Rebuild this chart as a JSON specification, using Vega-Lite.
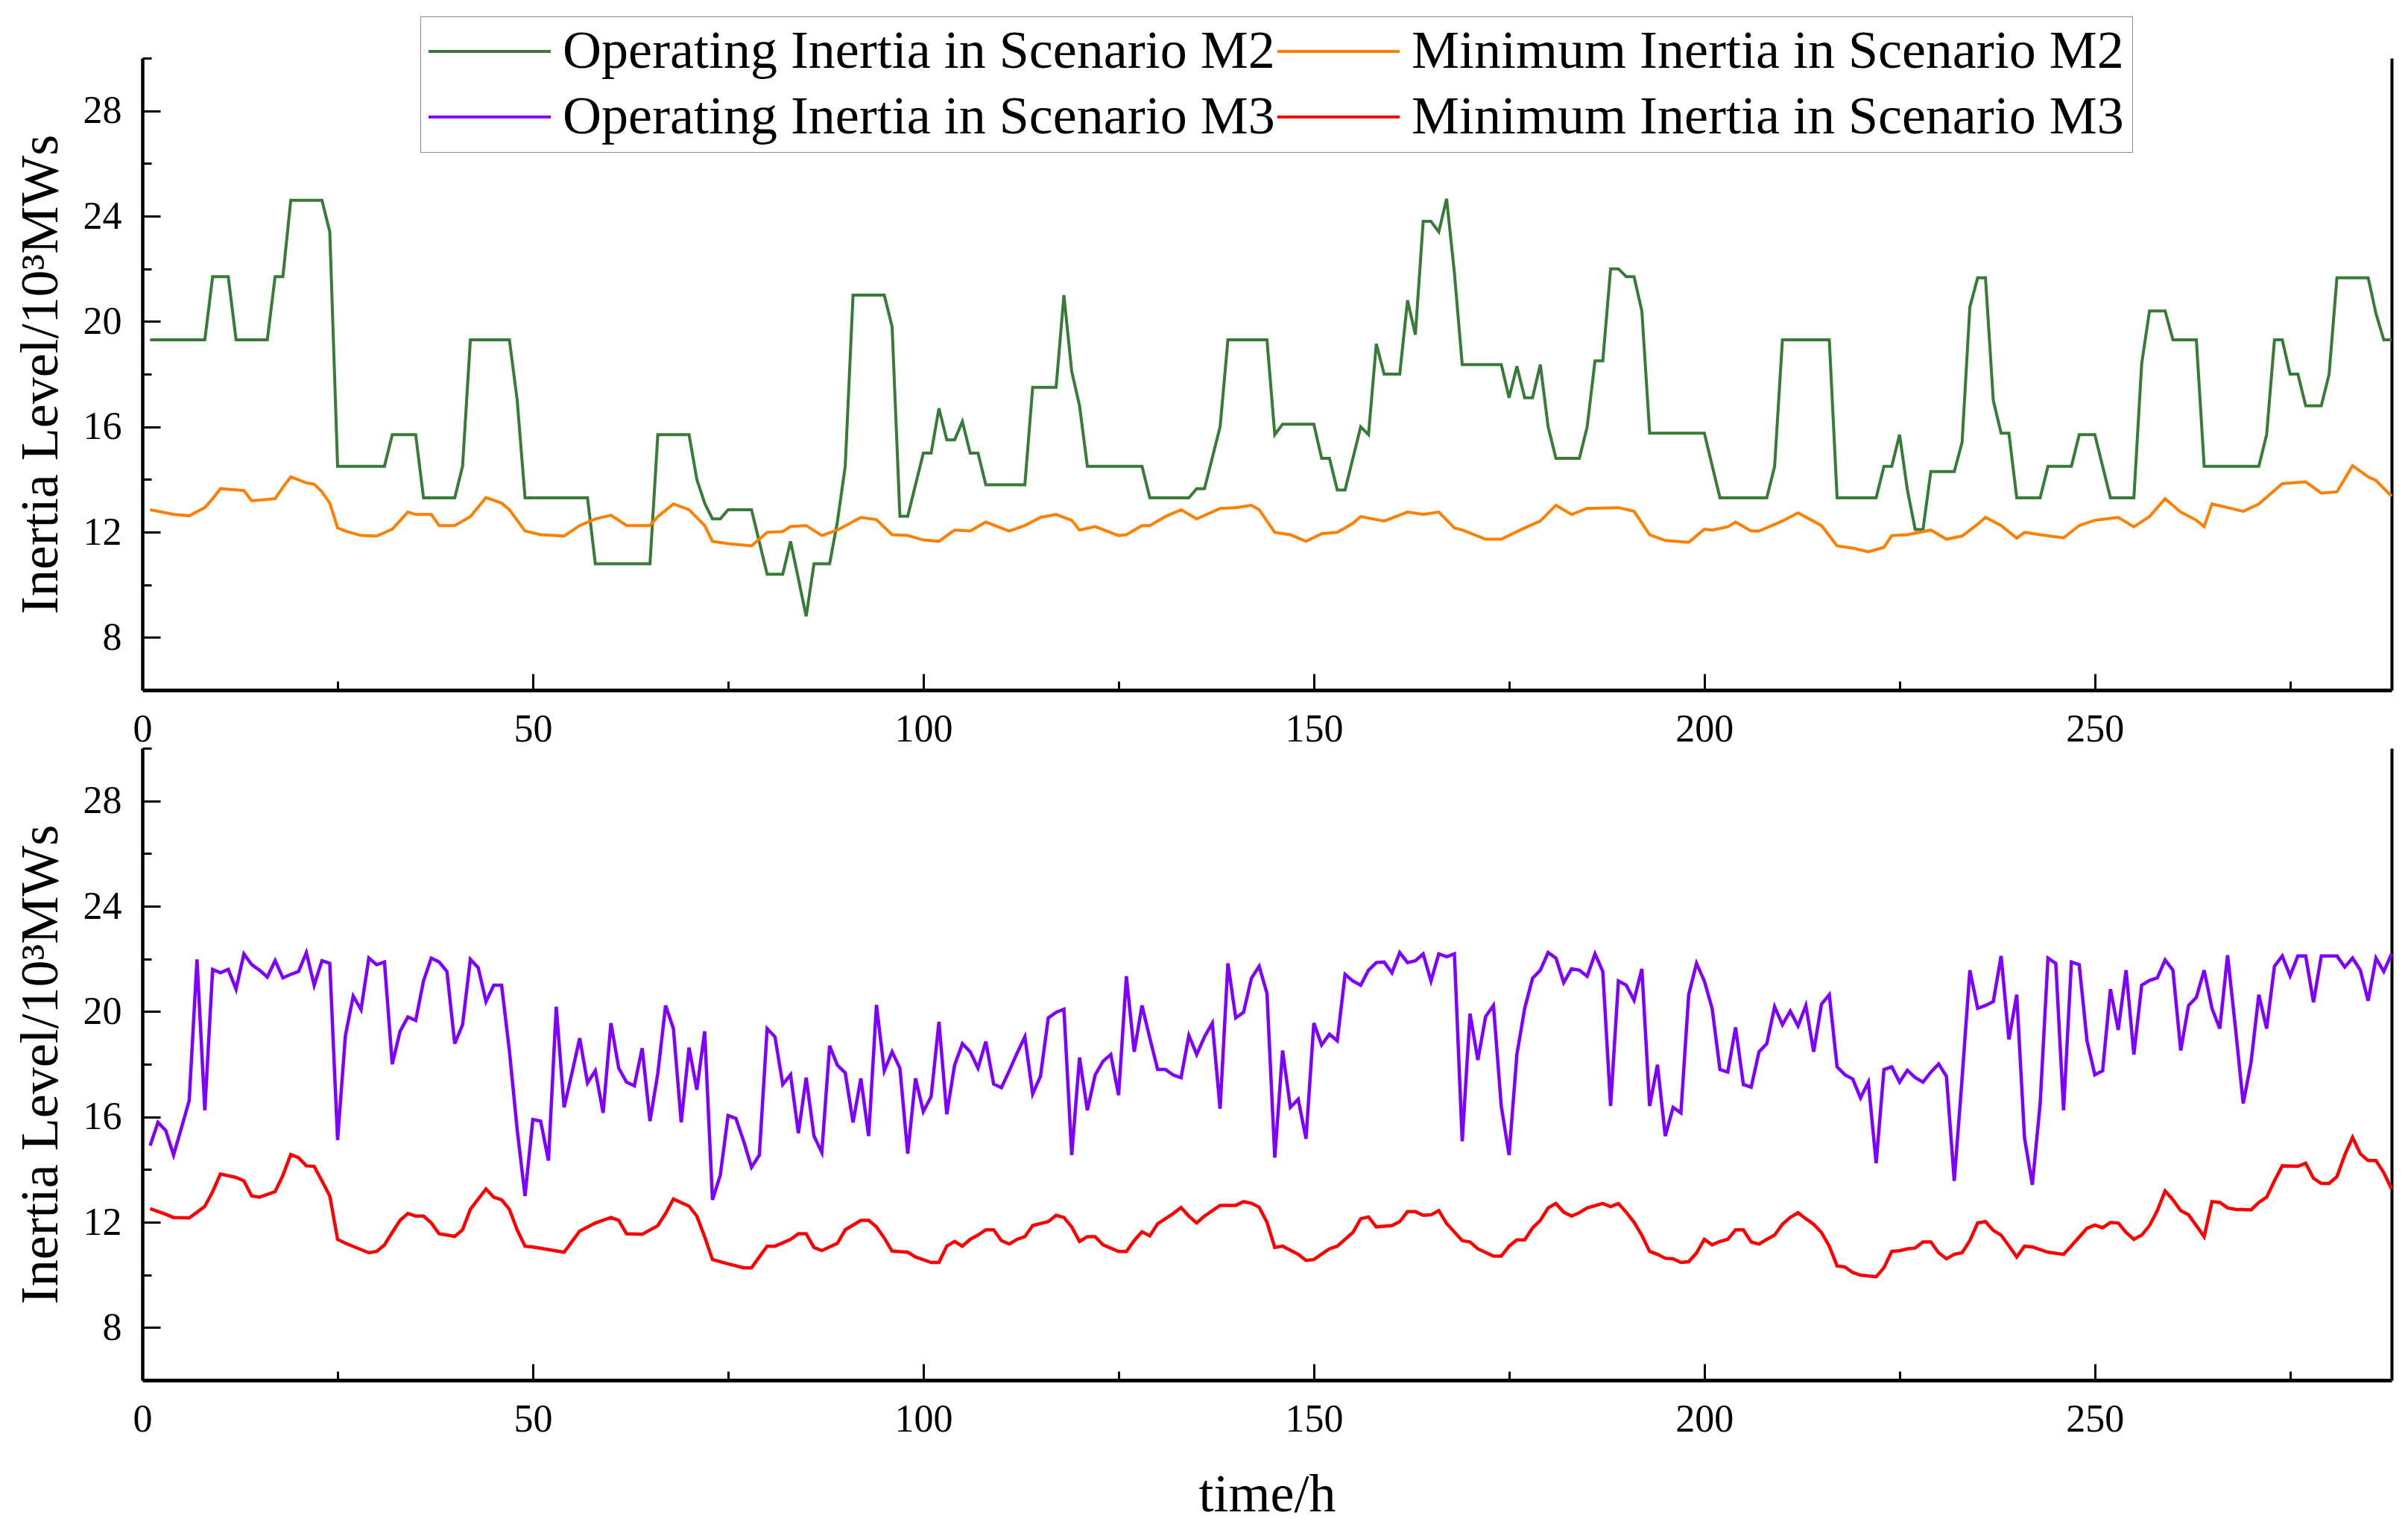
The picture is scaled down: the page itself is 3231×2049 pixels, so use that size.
{
"$schema":"https://vega.github.io/schema/vega-lite/v6.json",
"padding":{"left":18,"top":21,"right":10,"bottom":5},
"spacing":-2,
"config":{"view":{"stroke":null},"font":"Liberation Serif"},
"resolve":{"scale":{"color":"independent"}},
"datasets":{
"opM2":[{"t":1,"v":19.3},{"t":8,"v":19.3},{"t":9,"v":21.7},{"t":11,"v":21.7},{"t":12,"v":19.3},{"t":16,"v":19.3},{"t":17,"v":21.7},{"t":18,"v":21.7},{"t":19,"v":24.6},{"t":23,"v":24.6},{"t":24,"v":23.4},{"t":25,"v":14.5},{"t":31,"v":14.5},{"t":32,"v":15.7},{"t":35,"v":15.7},{"t":36,"v":13.3},{"t":40,"v":13.3},{"t":41,"v":14.5},{"t":42,"v":19.3},{"t":47,"v":19.3},{"t":48,"v":17.0},{"t":49,"v":13.3},{"t":57,"v":13.3},{"t":58,"v":10.8},{"t":65,"v":10.8},{"t":66,"v":15.7},{"t":70,"v":15.7},{"t":71,"v":14.0},{"t":72,"v":13.1},{"t":73,"v":12.5},{"t":74,"v":12.5},{"t":75,"v":12.85},{"t":78,"v":12.85},{"t":80,"v":10.4},{"t":82,"v":10.4},{"t":83,"v":11.65},{"t":85,"v":8.8},{"t":86,"v":10.8},{"t":88,"v":10.8},{"t":89,"v":12.4},{"t":90,"v":14.5},{"t":91,"v":21.0},{"t":95,"v":21.0},{"t":96,"v":19.8},{"t":97,"v":12.6},{"t":98,"v":12.6},{"t":100,"v":15.0},{"t":101,"v":15.0},{"t":102,"v":16.7},{"t":103,"v":15.5},{"t":104,"v":15.5},{"t":105,"v":16.2},{"t":106,"v":15.0},{"t":107,"v":15.0},{"t":108,"v":13.8},{"t":113,"v":13.8},{"t":114,"v":17.5},{"t":117,"v":17.5},{"t":118,"v":21.0},{"t":119,"v":18.1},{"t":120,"v":16.8},{"t":121,"v":14.5},{"t":128,"v":14.5},{"t":129,"v":13.3},{"t":134,"v":13.3},{"t":135,"v":13.65},{"t":136,"v":13.65},{"t":138,"v":16.0},{"t":139,"v":19.3},{"t":144,"v":19.3},{"t":145,"v":15.7},{"t":146,"v":16.1},{"t":150,"v":16.1},{"t":151,"v":14.8},{"t":152,"v":14.8},{"t":153,"v":13.6},{"t":154,"v":13.6},{"t":156,"v":16.0},{"t":157,"v":15.7},{"t":158,"v":19.15},{"t":159,"v":18.0},{"t":161,"v":18.0},{"t":162,"v":20.8},{"t":163,"v":19.5},{"t":164,"v":23.8},{"t":165,"v":23.8},{"t":166,"v":23.4},{"t":167,"v":24.66},{"t":168,"v":21.84},{"t":169,"v":18.36},{"t":174,"v":18.36},{"t":175,"v":17.1},{"t":176,"v":18.3},{"t":177,"v":17.1},{"t":178,"v":17.1},{"t":179,"v":18.36},{"t":180,"v":16.0},{"t":181,"v":14.8},{"t":184,"v":14.8},{"t":185,"v":16.0},{"t":186,"v":18.5},{"t":187,"v":18.5},{"t":188,"v":22.0},{"t":189,"v":22.0},{"t":190,"v":21.7},{"t":191,"v":21.7},{"t":192,"v":20.4},{"t":193,"v":15.76},{"t":200,"v":15.76},{"t":202,"v":13.3},{"t":208,"v":13.3},{"t":209,"v":14.5},{"t":210,"v":19.3},{"t":216,"v":19.3},{"t":217,"v":13.3},{"t":222,"v":13.3},{"t":223,"v":14.5},{"t":224,"v":14.5},{"t":225,"v":15.7},{"t":226,"v":13.6},{"t":227,"v":12.1},{"t":228,"v":12.1},{"t":229,"v":14.3},{"t":232,"v":14.3},{"t":233,"v":15.4},{"t":234,"v":20.55},{"t":235,"v":21.66},{"t":236,"v":21.66},{"t":237,"v":17.0},{"t":238,"v":15.76},{"t":239,"v":15.76},{"t":240,"v":13.3},{"t":243,"v":13.3},{"t":244,"v":14.5},{"t":247,"v":14.5},{"t":248,"v":15.7},{"t":250,"v":15.7},{"t":251,"v":14.5},{"t":252,"v":13.3},{"t":255,"v":13.3},{"t":256,"v":18.4},{"t":257,"v":20.4},{"t":259,"v":20.4},{"t":260,"v":19.3},{"t":263,"v":19.3},{"t":264,"v":14.5},{"t":271,"v":14.5},{"t":272,"v":15.7},{"t":273,"v":19.3},{"t":274,"v":19.3},{"t":275,"v":18.0},{"t":276,"v":18.0},{"t":277,"v":16.8},{"t":279,"v":16.8},{"t":280,"v":18.0},{"t":281,"v":21.66},{"t":285,"v":21.66},{"t":286,"v":20.3},{"t":287,"v":19.3},{"t":288,"v":19.3}],
"minM2":[{"t":1,"v":12.85},{"t":4,"v":12.67},{"t":6,"v":12.62},{"t":8,"v":12.93},{"t":9,"v":13.27},{"t":10,"v":13.65},{"t":13,"v":13.58},{"t":14,"v":13.19},{"t":17,"v":13.27},{"t":18,"v":13.7},{"t":19,"v":14.1},{"t":21,"v":13.87},{"t":22,"v":13.82},{"t":23,"v":13.53},{"t":24,"v":13.1},{"t":25,"v":12.16},{"t":26,"v":12.04},{"t":28,"v":11.87},{"t":30,"v":11.85},{"t":32,"v":12.11},{"t":34,"v":12.76},{"t":35,"v":12.67},{"t":37,"v":12.67},{"t":38,"v":12.25},{"t":40,"v":12.25},{"t":42,"v":12.59},{"t":44,"v":13.31},{"t":46,"v":13.1},{"t":47,"v":12.85},{"t":49,"v":12.04},{"t":51,"v":11.9},{"t":54,"v":11.85},{"t":56,"v":12.25},{"t":58,"v":12.5},{"t":60,"v":12.64},{"t":62,"v":12.25},{"t":65,"v":12.25},{"t":66,"v":12.59},{"t":68,"v":13.07},{"t":70,"v":12.85},{"t":72,"v":12.25},{"t":73,"v":11.65},{"t":75,"v":11.56},{"t":78,"v":11.48},{"t":80,"v":11.99},{"t":82,"v":12.02},{"t":83,"v":12.21},{"t":85,"v":12.25},{"t":87,"v":11.87},{"t":89,"v":12.08},{"t":92,"v":12.56},{"t":94,"v":12.47},{"t":96,"v":11.9},{"t":98,"v":11.87},{"t":100,"v":11.7},{"t":102,"v":11.65},{"t":104,"v":12.08},{"t":106,"v":12.04},{"t":108,"v":12.38},{"t":111,"v":12.04},{"t":113,"v":12.25},{"t":115,"v":12.56},{"t":117,"v":12.67},{"t":119,"v":12.45},{"t":120,"v":12.08},{"t":122,"v":12.21},{"t":125,"v":11.87},{"t":126,"v":11.9},{"t":128,"v":12.25},{"t":129,"v":12.25},{"t":131,"v":12.59},{"t":133,"v":12.85},{"t":135,"v":12.5},{"t":138,"v":12.9},{"t":140,"v":12.93},{"t":142,"v":13.02},{"t":143,"v":12.85},{"t":145,"v":11.99},{"t":147,"v":11.9},{"t":149,"v":11.65},{"t":151,"v":11.94},{"t":153,"v":11.99},{"t":155,"v":12.33},{"t":156,"v":12.59},{"t":159,"v":12.42},{"t":162,"v":12.76},{"t":164,"v":12.67},{"t":166,"v":12.76},{"t":168,"v":12.16},{"t":169,"v":12.08},{"t":172,"v":11.73},{"t":174,"v":11.73},{"t":177,"v":12.16},{"t":179,"v":12.42},{"t":181,"v":13.02},{"t":183,"v":12.67},{"t":185,"v":12.9},{"t":189,"v":12.93},{"t":191,"v":12.79},{"t":193,"v":11.9},{"t":195,"v":11.68},{"t":198,"v":11.61},{"t":200,"v":12.11},{"t":201,"v":12.08},{"t":203,"v":12.2},{"t":204,"v":12.38},{"t":206,"v":12.04},{"t":207,"v":12.04},{"t":210,"v":12.42},{"t":212,"v":12.73},{"t":215,"v":12.25},{"t":217,"v":11.48},{"t":219,"v":11.39},{"t":221,"v":11.25},{"t":223,"v":11.42},{"t":224,"v":11.87},{"t":226,"v":11.9},{"t":229,"v":12.08},{"t":231,"v":11.73},{"t":233,"v":11.85},{"t":235,"v":12.3},{"t":236,"v":12.56},{"t":238,"v":12.25},{"t":240,"v":11.77},{"t":241,"v":11.99},{"t":243,"v":11.9},{"t":246,"v":11.78},{"t":248,"v":12.25},{"t":250,"v":12.45},{"t":253,"v":12.56},{"t":255,"v":12.2},{"t":257,"v":12.59},{"t":259,"v":13.27},{"t":261,"v":12.76},{"t":263,"v":12.45},{"t":264,"v":12.21},{"t":265,"v":13.07},{"t":267,"v":12.93},{"t":269,"v":12.79},{"t":271,"v":13.07},{"t":274,"v":13.84},{"t":277,"v":13.91},{"t":279,"v":13.48},{"t":281,"v":13.53},{"t":283,"v":14.52},{"t":285,"v":14.1},{"t":286,"v":13.96},{"t":288,"v":13.36}],
"opM3":[{"t":1,"v":14.91},{"t":2,"v":15.79},{"t":3,"v":15.48},{"t":4,"v":14.55},{"t":5,"v":15.58},{"t":6,"v":16.62},{"t":7,"v":21.98},{"t":8,"v":16.25},{"t":9,"v":21.6},{"t":10,"v":21.47},{"t":11,"v":21.6},{"t":12,"v":20.85},{"t":13,"v":22.19},{"t":14,"v":21.78},{"t":15,"v":21.57},{"t":16,"v":21.31},{"t":17,"v":21.93},{"t":18,"v":21.28},{"t":19,"v":21.41},{"t":20,"v":21.52},{"t":21,"v":22.24},{"t":22,"v":21.0},{"t":23,"v":21.93},{"t":24,"v":21.83},{"t":25,"v":15.12},{"t":26,"v":19.09},{"t":27,"v":20.59},{"t":28,"v":20.07},{"t":29,"v":22.03},{"t":30,"v":21.78},{"t":31,"v":21.88},{"t":32,"v":18.0},{"t":33,"v":19.25},{"t":34,"v":19.79},{"t":35,"v":19.66},{"t":36,"v":21.16},{"t":37,"v":22.03},{"t":38,"v":21.88},{"t":39,"v":21.52},{"t":40,"v":18.78},{"t":41,"v":19.5},{"t":42,"v":21.98},{"t":43,"v":21.67},{"t":44,"v":20.38},{"t":45,"v":21.0},{"t":46,"v":21.0},{"t":47,"v":18.5},{"t":48,"v":15.5},{"t":49,"v":13.0},{"t":50,"v":15.9},{"t":51,"v":15.84},{"t":52,"v":14.34},{"t":53,"v":20.18},{"t":54,"v":16.36},{"t":55,"v":17.65},{"t":56,"v":18.99},{"t":57,"v":17.29},{"t":58,"v":17.75},{"t":59,"v":16.15},{"t":60,"v":19.56},{"t":61,"v":17.85},{"t":62,"v":17.32},{"t":63,"v":17.18},{"t":64,"v":18.61},{"t":65,"v":15.84},{"t":66,"v":17.65},{"t":67,"v":20.23},{"t":68,"v":19.35},{"t":69,"v":15.79},{"t":70,"v":18.63},{"t":71,"v":17.03},{"t":72,"v":19.25},{"t":73,"v":12.85},{"t":74,"v":13.78},{"t":75,"v":16.05},{"t":76,"v":15.94},{"t":77,"v":15.07},{"t":78,"v":14.09},{"t":79,"v":14.55},{"t":80,"v":19.35},{"t":81,"v":19.04},{"t":82,"v":17.23},{"t":83,"v":17.6},{"t":84,"v":15.38},{"t":85,"v":17.49},{"t":86,"v":15.27},{"t":87,"v":14.65},{"t":88,"v":18.7},{"t":89,"v":17.96},{"t":90,"v":17.67},{"t":91,"v":15.79},{"t":92,"v":17.46},{"t":93,"v":15.27},{"t":94,"v":20.25},{"t":95,"v":17.75},{"t":96,"v":18.47},{"t":97,"v":17.85},{"t":98,"v":14.6},{"t":99,"v":17.46},{"t":100,"v":16.2},{"t":101,"v":16.77},{"t":102,"v":19.61},{"t":103,"v":16.1},{"t":104,"v":17.96},{"t":105,"v":18.78},{"t":106,"v":18.47},{"t":107,"v":17.85},{"t":108,"v":18.86},{"t":109,"v":17.25},{"t":110,"v":17.11},{"t":111,"v":17.75},{"t":112,"v":18.42},{"t":113,"v":19.04},{"t":114,"v":16.87},{"t":115,"v":17.54},{"t":116,"v":19.76},{"t":117,"v":19.97},{"t":118,"v":20.09},{"t":119,"v":14.55},{"t":120,"v":18.25},{"t":121,"v":16.25},{"t":122,"v":17.59},{"t":123,"v":18.11},{"t":124,"v":18.37},{"t":125,"v":16.82},{"t":126,"v":21.34},{"t":127,"v":18.47},{"t":128,"v":20.23},{"t":129,"v":18.99},{"t":130,"v":17.8},{"t":131,"v":17.8},{"t":132,"v":17.59},{"t":133,"v":17.49},{"t":134,"v":19.09},{"t":135,"v":18.37},{"t":136,"v":19.04},{"t":137,"v":19.56},{"t":138,"v":16.31},{"t":139,"v":21.83},{"t":140,"v":19.76},{"t":141,"v":19.97},{"t":142,"v":21.26},{"t":143,"v":21.72},{"t":144,"v":20.69},{"t":145,"v":14.45},{"t":146,"v":18.52},{"t":147,"v":16.36},{"t":148,"v":16.67},{"t":149,"v":15.17},{"t":150,"v":19.56},{"t":151,"v":18.73},{"t":152,"v":19.14},{"t":153,"v":18.89},{"t":154,"v":21.41},{"t":155,"v":21.16},{"t":156,"v":21.0},{"t":157,"v":21.57},{"t":158,"v":21.86},{"t":159,"v":21.88},{"t":160,"v":21.47},{"t":161,"v":22.24},{"t":162,"v":21.86},{"t":163,"v":21.93},{"t":164,"v":22.19},{"t":165,"v":21.16},{"t":166,"v":22.19},{"t":167,"v":22.08},{"t":168,"v":22.19},{"t":169,"v":15.07},{"t":170,"v":19.92},{"t":171,"v":18.16},{"t":172,"v":19.81},{"t":173,"v":20.23},{"t":174,"v":16.41},{"t":175,"v":14.55},{"t":176,"v":18.37},{"t":177,"v":20.12},{"t":178,"v":21.26},{"t":179,"v":21.57},{"t":180,"v":22.24},{"t":181,"v":22.03},{"t":182,"v":21.1},{"t":183,"v":21.62},{"t":184,"v":21.57},{"t":185,"v":21.34},{"t":186,"v":22.19},{"t":187,"v":21.52},{"t":188,"v":16.41},{"t":189,"v":21.16},{"t":190,"v":21.0},{"t":191,"v":20.43},{"t":192,"v":21.62},{"t":193,"v":16.41},{"t":194,"v":17.98},{"t":195,"v":15.27},{"t":196,"v":16.36},{"t":197,"v":16.15},{"t":198,"v":20.64},{"t":199,"v":21.83},{"t":200,"v":21.16},{"t":201,"v":20.12},{"t":202,"v":17.8},{"t":203,"v":17.7},{"t":204,"v":19.4},{"t":205,"v":17.23},{"t":206,"v":17.13},{"t":207,"v":18.47},{"t":208,"v":18.78},{"t":209,"v":20.18},{"t":210,"v":19.5},{"t":211,"v":20.02},{"t":212,"v":19.45},{"t":213,"v":20.23},{"t":214,"v":18.47},{"t":215,"v":20.28},{"t":216,"v":20.64},{"t":217,"v":17.9},{"t":218,"v":17.6},{"t":219,"v":17.44},{"t":220,"v":16.72},{"t":221,"v":17.32},{"t":222,"v":14.24},{"t":223,"v":17.8},{"t":224,"v":17.9},{"t":225,"v":17.32},{"t":226,"v":17.77},{"t":227,"v":17.49},{"t":228,"v":17.32},{"t":229,"v":17.7},{"t":230,"v":18.01},{"t":231,"v":17.54},{"t":232,"v":13.57},{"t":233,"v":17.44},{"t":234,"v":21.57},{"t":235,"v":20.12},{"t":236,"v":20.23},{"t":237,"v":20.38},{"t":238,"v":22.11},{"t":239,"v":18.94},{"t":240,"v":20.64},{"t":241,"v":15.2},{"t":242,"v":13.42},{"t":243,"v":16.5},{"t":244,"v":22.03},{"t":245,"v":21.83},{"t":246,"v":16.25},{"t":247,"v":21.88},{"t":248,"v":21.78},{"t":249,"v":18.89},{"t":250,"v":17.6},{"t":251,"v":17.75},{"t":252,"v":20.85},{"t":253,"v":19.3},{"t":254,"v":21.57},{"t":255,"v":18.37},{"t":256,"v":21.0},{"t":257,"v":21.18},{"t":258,"v":21.28},{"t":259,"v":21.96},{"t":260,"v":21.57},{"t":261,"v":18.52},{"t":262,"v":20.23},{"t":263,"v":20.54},{"t":264,"v":21.57},{"t":265,"v":20.12},{"t":266,"v":19.35},{"t":267,"v":22.14},{"t":268,"v":19.4},{"t":269,"v":16.51},{"t":270,"v":18.06},{"t":271,"v":20.64},{"t":272,"v":19.35},{"t":273,"v":21.72},{"t":274,"v":22.11},{"t":275,"v":21.36},{"t":276,"v":22.11},{"t":277,"v":22.11},{"t":278,"v":20.35},{"t":279,"v":22.11},{"t":280,"v":22.11},{"t":281,"v":22.11},{"t":282,"v":21.69},{"t":283,"v":22.03},{"t":284,"v":21.57},{"t":285,"v":20.41},{"t":286,"v":22.03},{"t":287,"v":21.52},{"t":288,"v":22.19}],
"minM3":[{"t":1,"v":12.51},{"t":3,"v":12.3},{"t":4,"v":12.18},{"t":6,"v":12.16},{"t":7,"v":12.38},{"t":8,"v":12.6},{"t":9,"v":13.16},{"t":10,"v":13.83},{"t":12,"v":13.7},{"t":13,"v":13.57},{"t":14,"v":13.0},{"t":15,"v":12.95},{"t":17,"v":13.16},{"t":18,"v":13.78},{"t":19,"v":14.57},{"t":20,"v":14.45},{"t":21,"v":14.14},{"t":22,"v":14.12},{"t":23,"v":13.57},{"t":24,"v":13.0},{"t":25,"v":11.35},{"t":26,"v":11.2},{"t":28,"v":10.96},{"t":29,"v":10.84},{"t":30,"v":10.89},{"t":31,"v":11.14},{"t":32,"v":11.61},{"t":33,"v":12.07},{"t":34,"v":12.33},{"t":35,"v":12.23},{"t":36,"v":12.23},{"t":37,"v":11.97},{"t":38,"v":11.56},{"t":40,"v":11.46},{"t":41,"v":11.71},{"t":42,"v":12.49},{"t":44,"v":13.26},{"t":45,"v":12.95},{"t":46,"v":12.85},{"t":47,"v":12.49},{"t":48,"v":11.7},{"t":49,"v":11.09},{"t":50,"v":11.06},{"t":52,"v":10.96},{"t":54,"v":10.86},{"t":56,"v":11.66},{"t":58,"v":11.97},{"t":60,"v":12.18},{"t":61,"v":12.07},{"t":62,"v":11.56},{"t":64,"v":11.54},{"t":66,"v":11.87},{"t":67,"v":12.33},{"t":68,"v":12.88},{"t":70,"v":12.61},{"t":71,"v":12.23},{"t":72,"v":11.45},{"t":73,"v":10.58},{"t":75,"v":10.42},{"t":77,"v":10.27},{"t":78,"v":10.27},{"t":79,"v":10.68},{"t":80,"v":11.09},{"t":81,"v":11.09},{"t":83,"v":11.35},{"t":84,"v":11.56},{"t":85,"v":11.56},{"t":86,"v":11.04},{"t":87,"v":10.92},{"t":89,"v":11.2},{"t":90,"v":11.71},{"t":92,"v":12.07},{"t":93,"v":12.07},{"t":94,"v":11.82},{"t":95,"v":11.4},{"t":96,"v":10.9},{"t":98,"v":10.86},{"t":99,"v":10.68},{"t":101,"v":10.47},{"t":102,"v":10.47},{"t":103,"v":11.09},{"t":104,"v":11.27},{"t":105,"v":11.09},{"t":106,"v":11.35},{"t":107,"v":11.51},{"t":108,"v":11.71},{"t":109,"v":11.71},{"t":110,"v":11.3},{"t":111,"v":11.17},{"t":112,"v":11.35},{"t":113,"v":11.45},{"t":114,"v":11.87},{"t":116,"v":12.02},{"t":117,"v":12.26},{"t":118,"v":12.18},{"t":119,"v":11.82},{"t":120,"v":11.27},{"t":121,"v":11.45},{"t":122,"v":11.45},{"t":123,"v":11.14},{"t":125,"v":10.89},{"t":126,"v":10.89},{"t":127,"v":11.3},{"t":128,"v":11.64},{"t":129,"v":11.48},{"t":130,"v":11.94},{"t":132,"v":12.33},{"t":133,"v":12.56},{"t":134,"v":12.23},{"t":135,"v":11.97},{"t":136,"v":12.23},{"t":138,"v":12.64},{"t":140,"v":12.64},{"t":141,"v":12.78},{"t":142,"v":12.72},{"t":143,"v":12.57},{"t":144,"v":12.0},{"t":145,"v":11.04},{"t":146,"v":11.09},{"t":148,"v":10.78},{"t":149,"v":10.55},{"t":150,"v":10.58},{"t":152,"v":10.99},{"t":153,"v":11.09},{"t":155,"v":11.61},{"t":156,"v":12.13},{"t":157,"v":12.2},{"t":158,"v":11.82},{"t":160,"v":11.87},{"t":161,"v":12.02},{"t":162,"v":12.4},{"t":163,"v":12.4},{"t":164,"v":12.26},{"t":165,"v":12.28},{"t":166,"v":12.44},{"t":167,"v":11.95},{"t":169,"v":11.3},{"t":170,"v":11.25},{"t":171,"v":10.99},{"t":173,"v":10.71},{"t":174,"v":10.71},{"t":175,"v":11.09},{"t":176,"v":11.33},{"t":177,"v":11.33},{"t":178,"v":11.78},{"t":179,"v":12.07},{"t":180,"v":12.54},{"t":181,"v":12.71},{"t":182,"v":12.38},{"t":183,"v":12.23},{"t":184,"v":12.36},{"t":185,"v":12.54},{"t":187,"v":12.71},{"t":188,"v":12.59},{"t":189,"v":12.71},{"t":190,"v":12.38},{"t":191,"v":12.0},{"t":192,"v":11.5},{"t":193,"v":10.89},{"t":194,"v":10.78},{"t":195,"v":10.63},{"t":196,"v":10.61},{"t":197,"v":10.47},{"t":198,"v":10.5},{"t":199,"v":10.83},{"t":200,"v":11.35},{"t":201,"v":11.14},{"t":202,"v":11.27},{"t":203,"v":11.35},{"t":204,"v":11.71},{"t":205,"v":11.71},{"t":206,"v":11.25},{"t":207,"v":11.17},{"t":208,"v":11.35},{"t":209,"v":11.51},{"t":210,"v":11.92},{"t":211,"v":12.18},{"t":212,"v":12.36},{"t":213,"v":12.13},{"t":214,"v":11.92},{"t":215,"v":11.61},{"t":216,"v":11.09},{"t":217,"v":10.34},{"t":218,"v":10.3},{"t":219,"v":10.09},{"t":220,"v":9.99},{"t":222,"v":9.93},{"t":223,"v":10.27},{"t":224,"v":10.89},{"t":225,"v":10.92},{"t":226,"v":10.99},{"t":227,"v":11.02},{"t":228,"v":11.25},{"t":229,"v":11.25},{"t":230,"v":10.84},{"t":231,"v":10.61},{"t":232,"v":10.78},{"t":233,"v":10.84},{"t":234,"v":11.3},{"t":235,"v":11.97},{"t":236,"v":12.02},{"t":237,"v":11.69},{"t":238,"v":11.51},{"t":239,"v":11.1},{"t":240,"v":10.68},{"t":241,"v":11.09},{"t":242,"v":11.06},{"t":244,"v":10.86},{"t":246,"v":10.78},{"t":247,"v":11.1},{"t":249,"v":11.77},{"t":250,"v":11.89},{"t":251,"v":11.79},{"t":252,"v":11.99},{"t":253,"v":11.97},{"t":254,"v":11.61},{"t":255,"v":11.35},{"t":256,"v":11.51},{"t":257,"v":11.87},{"t":258,"v":12.44},{"t":259,"v":13.19},{"t":260,"v":12.85},{"t":261,"v":12.44},{"t":262,"v":12.28},{"t":263,"v":11.87},{"t":264,"v":11.45},{"t":265,"v":12.78},{"t":266,"v":12.75},{"t":267,"v":12.54},{"t":268,"v":12.49},{"t":270,"v":12.47},{"t":271,"v":12.75},{"t":272,"v":12.95},{"t":273,"v":13.57},{"t":274,"v":14.14},{"t":276,"v":14.12},{"t":277,"v":14.24},{"t":278,"v":13.67},{"t":279,"v":13.47},{"t":280,"v":13.47},{"t":281,"v":13.73},{"t":282,"v":14.55},{"t":283,"v":15.22},{"t":284,"v":14.6},{"t":285,"v":14.34},{"t":286,"v":14.34},{"t":287,"v":13.88},{"t":288,"v":13.26}]
},
"vconcat":[
{"width":3018,"height":848,
 "resolve":{"axis":{"x":"independent","y":"independent"}},
 "layer":[
  {"data":{"name":"opM2"},"mark":{"type":"line","strokeWidth":4},
   "encoding":{
    "x":{"field":"t","type":"quantitative","scale":{"domain":[0,288],"nice":false,"zero":false},
      "axis":{"title":null,"orient":"bottom","values":[0,50,100,150,200,250],"grid":false,"tickSize":-22,"tickWidth":3,"tickColor":"black","domainColor":"black","domainWidth":5,"labelFont":"Liberation Serif","labelFontSize":52,"labelColor":"black","labelPadding":49,"labelFlush":false}},
    "y":{"field":"v","type":"quantitative","scale":{"domain":[6,30],"nice":false,"zero":false},
      "axis":{"title":"Inertia Level/10³MWs","orient":"left","values":[8,12,16,20,24,28],"grid":false,"tickSize":-24,"tickWidth":3,"tickColor":"black","domainColor":"black","domainWidth":4.5,"labelFont":"Liberation Serif","labelFontSize":52,"labelColor":"black","labelPadding":52,"titleFont":"Liberation Serif","titleFontSize":72,"titleFontWeight":"normal","titleColor":"black","titlePadding":20}},
    "color":{"datum":"Operating Inertia in Scenario M2","type":"nominal",
      "scale":{"domain":["Operating Inertia in Scenario M2","Operating Inertia in Scenario M3","Minimum Inertia in Scenario M2","Minimum Inertia in Scenario M3"],"range":["#387b38","#8000ff","#ff8000","#ff0000"]},
      "legend":{"title":null,"orient":"none","legendX":373,"legendY":-56,"columns":2,"symbolType":"M-5,0H5","symbolSize":1076,"symbolOffset":46,"symbolStrokeWidth":4,"labelFont":"Liberation Serif","labelFontSize":72,"labelColor":"black","labelOffset":62,"labelLimit":0,"rowPadding":16,"columnPadding":-6,"padding":11,"strokeColor":"#888888","fillColor":"white"}}
   }},
  {"data":{"name":"minM2"},"mark":{"type":"line","strokeWidth":4},
   "encoding":{
    "x":{"field":"t","type":"quantitative","scale":{"domain":[0,288],"nice":false,"zero":false},
      "axis":{"title":null,"orient":"bottom","values":[25,75,125,175,225,275],"labels":false,"domain":false,"grid":false,"tickSize":-12,"tickWidth":3,"tickColor":"black"}},
    "y":{"field":"v","type":"quantitative","scale":{"domain":[6,30],"nice":false,"zero":false},
      "axis":{"title":null,"orient":"left","values":[10,14,18,22,26,30],"labels":false,"domain":false,"grid":false,"tickSize":-12,"tickWidth":3,"tickColor":"black"}},
    "color":{"datum":"Minimum Inertia in Scenario M2","type":"nominal"}
   }},
  {"data":{"name":"opM2"},"mark":{"type":"point","opacity":0},
   "encoding":{
    "x":{"field":"t","type":"quantitative","scale":{"domain":[0,288],"nice":false,"zero":false},"axis":null},
    "y":{"field":"v","type":"quantitative","scale":{"domain":[6,30],"nice":false,"zero":false},
      "axis":{"title":null,"orient":"right","labels":false,"ticks":false,"grid":false,"domainColor":"black","domainWidth":4}}
   }}
 ]},
{"width":3018,"height":848,
 "resolve":{"axis":{"x":"independent","y":"independent"}},
 "layer":[
  {"data":{"name":"opM3"},"mark":{"type":"line","strokeWidth":4.5},
   "encoding":{
    "x":{"field":"t","type":"quantitative","scale":{"domain":[0,288],"nice":false,"zero":false},
      "axis":{"title":"time/h","orient":"bottom","values":[0,50,100,150,200,250],"grid":false,"tickSize":-22,"tickWidth":3,"tickColor":"black","domainColor":"black","domainWidth":5,"labelFont":"Liberation Serif","labelFontSize":52,"labelColor":"black","labelPadding":49,"labelFlush":false,"titleFont":"Liberation Serif","titleFontSize":72,"titleFontWeight":"normal","titleColor":"black","titlePadding":40}},
    "y":{"field":"v","type":"quantitative","scale":{"domain":[6,30],"nice":false,"zero":false},
      "axis":{"title":"Inertia Level/10³MWs","orient":"left","values":[8,12,16,20,24,28],"grid":false,"tickSize":-24,"tickWidth":3,"tickColor":"black","domainColor":"black","domainWidth":4.5,"labelFont":"Liberation Serif","labelFontSize":52,"labelColor":"black","labelPadding":52,"titleFont":"Liberation Serif","titleFontSize":72,"titleFontWeight":"normal","titleColor":"black","titlePadding":20}},
    "color":{"datum":"Operating Inertia in Scenario M3","type":"nominal",
      "scale":{"domain":["Operating Inertia in Scenario M2","Operating Inertia in Scenario M3","Minimum Inertia in Scenario M2","Minimum Inertia in Scenario M3"],"range":["#387b38","#8000ff","#ff8000","#ff0000"]},
      "legend":null}
   }},
  {"data":{"name":"minM3"},"mark":{"type":"line","strokeWidth":4.5},
   "encoding":{
    "x":{"field":"t","type":"quantitative","scale":{"domain":[0,288],"nice":false,"zero":false},
      "axis":{"title":null,"orient":"bottom","values":[25,75,125,175,225,275],"labels":false,"domain":false,"grid":false,"tickSize":-12,"tickWidth":3,"tickColor":"black"}},
    "y":{"field":"v","type":"quantitative","scale":{"domain":[6,30],"nice":false,"zero":false},
      "axis":{"title":null,"orient":"left","values":[10,14,18,22,26,30],"labels":false,"domain":false,"grid":false,"tickSize":-12,"tickWidth":3,"tickColor":"black"}},
    "color":{"datum":"Minimum Inertia in Scenario M3","type":"nominal","legend":null}
   }},
  {"data":{"name":"opM3"},"mark":{"type":"point","opacity":0},
   "encoding":{
    "x":{"field":"t","type":"quantitative","scale":{"domain":[0,288],"nice":false,"zero":false},"axis":null},
    "y":{"field":"v","type":"quantitative","scale":{"domain":[6,30],"nice":false,"zero":false},
      "axis":{"title":null,"orient":"right","labels":false,"ticks":false,"grid":false,"domainColor":"black","domainWidth":4}}
   }}
 ]}
]
}
